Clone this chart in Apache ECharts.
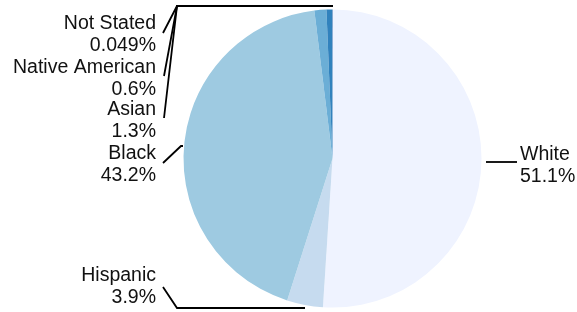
<!DOCTYPE html>
<html>
<head>
<meta charset="utf-8">
<script src="https://cdn.jsdelivr.net/npm/echarts@6/dist/echarts.min.js"></script>
<style>
  html, body { margin: 0; padding: 0; background: #fff; }
  #chart_pie { width: 577px; height: 312px; }
</style>
</head>
<body>
<div id="chart_pie"></div>
<script>
// pie data (percent)
var groups = ["White", "Hispanic", "Black", "Asian", "Native American", "Not Stated"];
var shares = [51.1, 3.9, 43.2, 1.3, 0.6, 0.049];
var shareText = ["51.1", "3.9", "43.2", "1.3", "0.6", "0.049"];
var colorList = ["#eff3ff", "#c6dbef", "#9ecae1", "#6baed6", "#3182bd", "#08519c"];

// where each label and its leader line go (px)
var labelSpots = [
  { x: 520, y: 166, align: "left", line: [[486, 162], [486, 162], [517, 162]] },
  { x: 156, y: 287, align: "right", line: [[305, 308], [177, 308], [163, 287]] },
  { x: 156, y: 165, align: "right", line: [[183, 146], [181, 146], [163, 163]] },
  { x: 156, y: 121, align: "right", line: [[333, 6], [177, 6], [164, 118]] },
  { x: 156, y: 79, align: "right", line: [[333, 6], [177, 6], [164, 76]] },
  { x: 156, y: 35, align: "right", line: [[333, 6], [177, 6], [163, 33]] },
];

var pieData = [];
for (let i = 0; i < groups.length; i++) {
  pieData.push({
    name: groups[i],
    value: shares[i],
    pct: shareText[i],
    itemStyle: { color: colorList[i] },
  });
}

var pie_Chart = echarts.init(document.getElementById("chart_pie"));
var option = {
  animation: false,
  series: [
    {
      type: "pie",
      center: [332.5, 158.5],
      radius: 149,
      startAngle: 90,
      clockwise: true,
      avoidLabelOverlap: false,
      data: pieData,
      itemStyle: { borderWidth: 0 },
      label: {
        show: true,
        position: "outer",
        fontFamily: "Liberation Sans",
        fontSize: 19.5,
        lineHeight: 22,
        color: "#111",
        formatter: function (p) {
          return p.name + "\n" + p.data.pct + "%";
        },
      },
      labelLine: {
        show: true,
        smooth: false,
        lineStyle: { color: "#000", width: 1.8 },
      },
      labelLayout: function (params) {
        var s = labelSpots[params.dataIndex];
        return {
          x: s.x,
          y: s.y,
          align: s.align,
          verticalAlign: "middle",
          labelLinePoints: s.line,
        };
      },
    },
  ],
};
pie_Chart.setOption(option);
</script>
</body>
</html>
